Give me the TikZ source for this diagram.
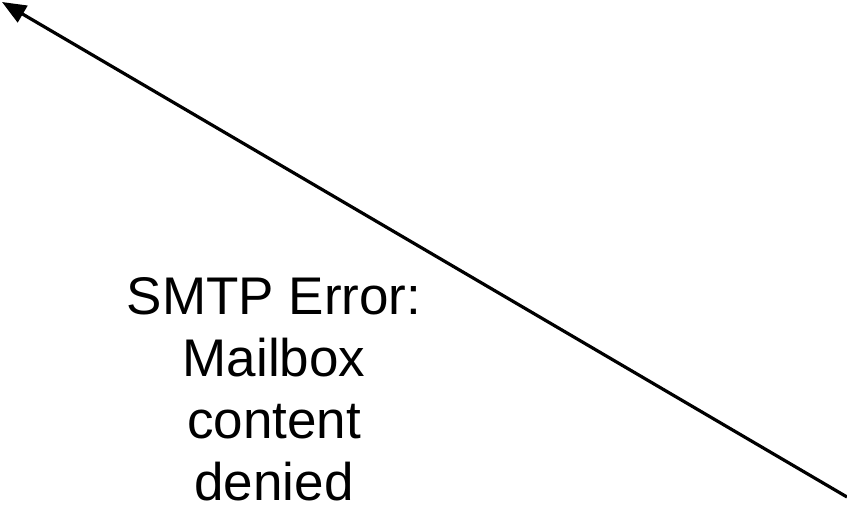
\documentclass[tikz,border=0pt]{standalone}
\usepackage{fontspec}
\setmainfont{Liberation Sans}
\usetikzlibrary{arrows.meta,positioning}

\begin{document}
\begin{tikzpicture}[x=1pt,y=-1pt,inner sep=0pt]
\useasboundingbox (0,0) rectangle (847,508);
\coordinate (from) at (847,497);
\coordinate (to) at (2,2);

\node[align=center,font=\fontsize{53}{62}\selectfont] (err) at (274,389) {SMTP Error:\\Mailbox\\content\\denied};

\draw[line width=3.2pt,-{Triangle[length=24pt,width=19pt]}] (from)--(to);

\end{tikzpicture}
\end{document}
